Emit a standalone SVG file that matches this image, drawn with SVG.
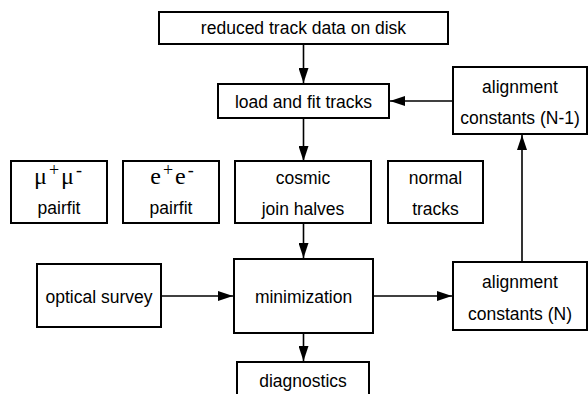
<svg xmlns="http://www.w3.org/2000/svg" width="588" height="394" viewBox="0 0 588 394">
<defs>
<marker id="ah" markerWidth="15" markerHeight="10" refX="15" refY="5" orient="auto" markerUnits="userSpaceOnUse">
<path d="M0,0 L15,5 L0,10 Z" fill="#000"/>
</marker>
<style>
rect{fill:#fff;stroke:#000;stroke-width:2}
text{font-family:"Liberation Sans",Arial,sans-serif;font-size:17.5px;text-anchor:middle;fill:#000}
.s{font-family:"Liberation Serif","Times New Roman",serif;font-size:24px;letter-spacing:2px}
.sup{font-size:18px}
#edges line{stroke:#000;stroke-width:1.6;marker-end:url(#ah)}
</style>
</defs>
<rect x="0" y="0" width="588" height="394" style="fill:#fff;stroke:none"/>
<g id="edges">
<line x1="303.5" y1="44" x2="303.5" y2="83"/>
<line x1="453" y1="101" x2="390" y2="101"/>
<line x1="303.5" y1="118" x2="303.5" y2="161"/>
<line x1="303.5" y1="223" x2="303.5" y2="258"/>
<line x1="161" y1="296" x2="233" y2="296"/>
<line x1="373" y1="296" x2="452" y2="296"/>
<line x1="522" y1="262" x2="522" y2="135"/>
<line x1="303.5" y1="333" x2="303.5" y2="361"/>
</g>
<g id="reduced"><rect x="159" y="12" width="289" height="32"/><text x="303.5" y="34">reduced track data on disk</text></g>
<g id="load"><rect x="218" y="84" width="171" height="34"/><text x="303.5" y="108">load and fit tracks</text></g>
<g id="alignN1"><rect x="453" y="67" width="134" height="67"/><text x="520" y="93">alignment</text><text x="520" y="124">constants (N-1)</text></g>
<g id="mumu"><rect x="11" y="161" width="96" height="62"/><text x="59" y="184" class="s">μ<tspan class="sup" dy="-8">+</tspan><tspan dy="8">μ</tspan><tspan class="sup" dy="-8">-</tspan></text><text x="59" y="214">pairfit</text></g>
<g id="ee"><rect x="123" y="161" width="96" height="62"/><text x="173" y="184" class="s">e<tspan class="sup" dy="-8">+</tspan><tspan dy="8">e</tspan><tspan class="sup" dy="-8">-</tspan></text><text x="171" y="214">pairfit</text></g>
<g id="cosmic"><rect x="235" y="161" width="136" height="62"/><text x="303" y="184">cosmic</text><text x="303" y="215">join halves</text></g>
<g id="normal"><rect x="388" y="161" width="95" height="62"/><text x="435.5" y="184">normal</text><text x="435.5" y="215">tracks</text></g>
<g id="optical"><rect x="37" y="264" width="124" height="63"/><text x="99" y="303">optical survey</text></g>
<g id="minim"><rect x="234" y="259" width="139" height="74"/><text x="303.5" y="303">minimization</text></g>
<g id="alignN"><rect x="453" y="262" width="134" height="68"/><text x="520" y="288">alignment</text><text x="520" y="320">constants (N)</text></g>
<g id="diag"><rect x="237" y="362" width="132" height="40"/><text x="303" y="387">diagnostics</text></g>
</svg>
